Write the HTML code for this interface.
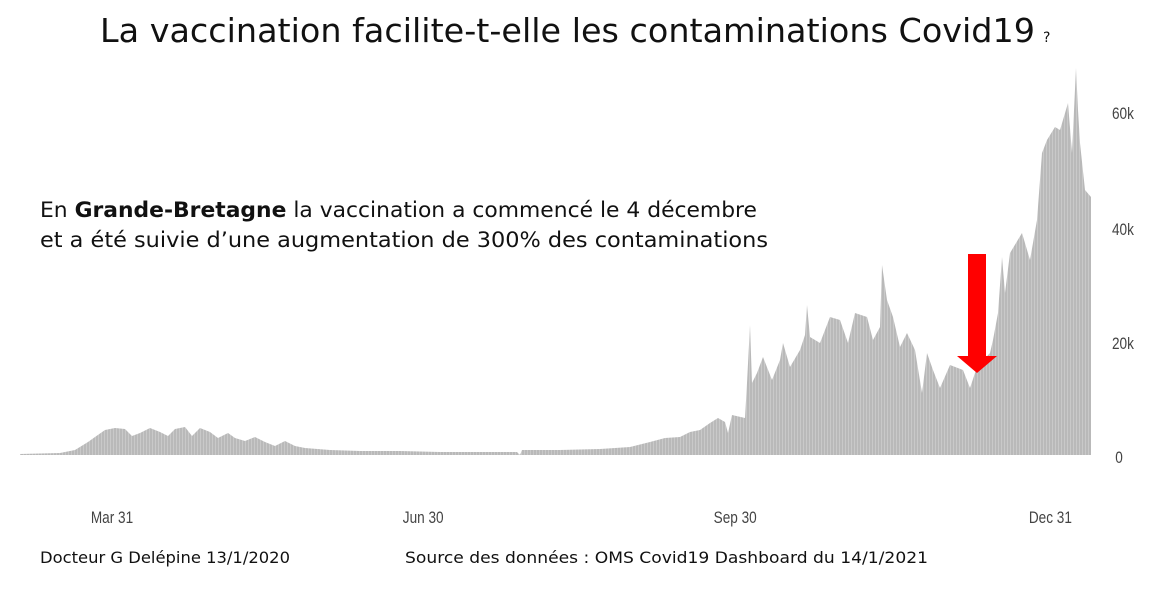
<!DOCTYPE html>
<html><head><meta charset="utf-8"><style>
body{margin:0;width:1150px;height:610px;background:#fff;overflow:hidden;font-family:"Liberation Sans",sans-serif}
svg{position:absolute;left:0;top:0}
</style></head><body>
<svg width="1150" height="610" viewBox="0 0 1150 610">
<defs><pattern id="p" width="3" height="10" patternUnits="userSpaceOnUse"><rect width="3" height="10" fill="#c9c9c9"/><rect width="2" height="10" fill="#b9b9b9"/></pattern></defs>
<text x="100" y="42" font-size="33" fill="#111" font-family="DejaVu Sans, sans-serif" textLength="935" lengthAdjust="spacingAndGlyphs">La vaccination facilite-t-elle les contaminations Covid19</text>
<text x="1043" y="42" font-size="14" fill="#111" font-family="DejaVu Sans, sans-serif">?</text>
<polygon fill="url(#p)" points="20,455 20,454 60,453 75,450 88,442 95,437 105,430 115,428 125,429 132,436 140,433 150,428 160,432 168,436 175,429 185,427 192,436 200,428 210,432 218,438 228,433 235,438 245,441 255,437 265,442 275,446 285,441 295,446 305,448 330,450 360,451 400,451 440,452 480,452 517,452 520,455 522,450 560,450 600,449 630,447 650,442 665,438 680,437 690,432 700,430 710,423 718,418 725,422 728,433 732,415 745,418 747,383 750,325 752,383 757,373 763,357 772,380 780,360 783,343 790,367 800,350 805,335 807,305 810,337 820,343 830,317 840,320 848,343 855,313 867,317 873,340 880,327 882,265 887,300 893,317 900,347 907,333 915,350 922,393 927,353 933,370 940,388 950,365 963,370 970,388 977,367 990,353 993,340 998,313 1002,257 1005,293 1010,253 1022,233 1030,260 1037,220 1042,153 1047,140 1055,127 1060,130 1068,103 1072,153 1076,68 1078,110 1080,143 1085,190 1091,197 1091,455"/>
<rect x="968" y="254" width="18" height="104" fill="#f00"/>
<polygon points="957,356 997,356 977,373" fill="#f00"/>
<g font-family="Liberation Sans Narrow, Liberation Sans, sans-serif" font-size="17" fill="#444" transform="scale(0.8,1)">
<text x="1390" y="119">60k</text><text x="1390" y="235">40k</text><text x="1390" y="349">20k</text><text x="1394" y="463">0</text>
<text x="140" y="523" text-anchor="middle">Mar 31</text><text x="529" y="523" text-anchor="middle">Jun 30</text><text x="919" y="523" text-anchor="middle">Sep 30</text><text x="1313" y="523" text-anchor="middle">Dec 31</text>
</g>
<g font-family="DejaVu Sans, sans-serif" font-size="21" fill="#111">
<text x="40" y="217" textLength="717" lengthAdjust="spacingAndGlyphs">En <tspan font-weight="bold">Grande-Bretagne</tspan> la vaccination a commencé le 4 décembre</text>
<text x="40" y="247" textLength="728" lengthAdjust="spacingAndGlyphs">et a été suivie d’une augmentation de 300% des contaminations</text>
</g>
<g font-family="DejaVu Sans, sans-serif" font-size="16" fill="#111">
<text x="40" y="563" textLength="250" lengthAdjust="spacingAndGlyphs">Docteur G Delépine 13/1/2020</text>
<text x="405" y="563" textLength="523" lengthAdjust="spacingAndGlyphs">Source des données : OMS Covid19 Dashboard du 14/1/2021</text>
</g>
</svg>
</body></html>
